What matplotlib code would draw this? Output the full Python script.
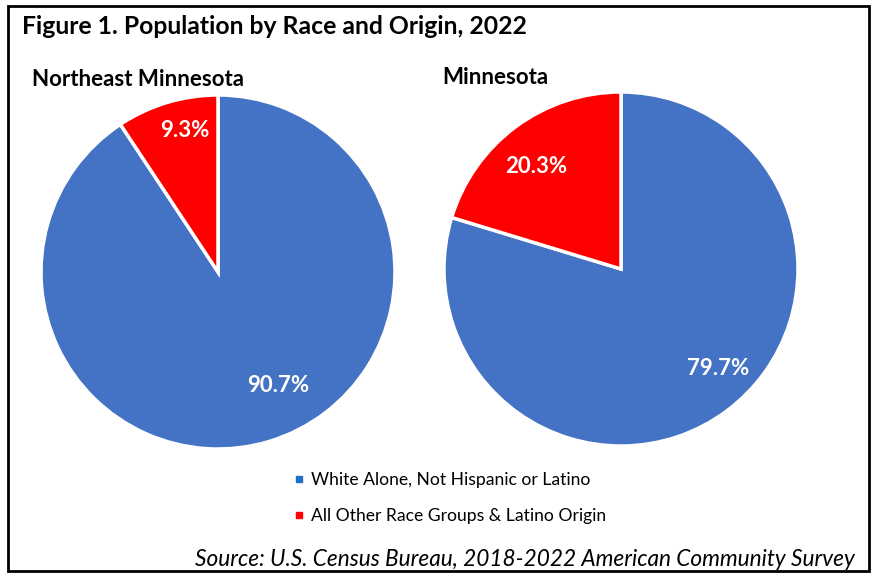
import matplotlib.pyplot as plt
from matplotlib.lines import Line2D
from matplotlib.patches import Rectangle

# Data
regions = ["Northeast Minnesota", "Minnesota"]
categories = ["White Alone, Not Hispanic or Latino", "All Other Race Groups & Latino Origin"]
white_share = [90.7, 79.7]
other_share = [9.3, 20.3]

pie_colors = ["#4472C4", "#FF0000"]
legend_colors = ["#1F6FC5", "#FF0000"]

plt.rcParams["font.family"] = ["Lato", "DejaVu Sans"]

W, H = 872, 576
fig = plt.figure(figsize=(W / 100, H / 100), dpi=100)

# outer frame
fig.add_artist(Rectangle((8 / W, 5 / H), 861 / W, 565 / H, transform=fig.transFigure,
                         fill=False, edgecolor="black", linewidth=2))

fig.text(22 / W, 1 - 27 / H, "Figure 1. Population by Race and Origin, 2022",
         fontsize=17.8, fontweight="bold", va="center", ha="left")

# pie centres / radius in pixels, and label offsets (in radius units)
centres = [(218, 272), (621, 269)]
radius = 177
title_pos = [(32, 80), (442, 78)]
label_pos = [[(0.34, -0.64), (-0.19, 0.80)],
             [(0.55, -0.56), (-0.48, 0.58)]]

for i, region in enumerate(regions):
    cx, cy = centres[i]
    ax = fig.add_axes([(cx - radius) / W, (H - cy - radius) / H, 2 * radius / W, 2 * radius / H])
    vals = [white_share[i], other_share[i]]
    wedges, texts, autotexts = ax.pie(
        vals, colors=pie_colors, startangle=90, counterclock=False,
        autopct="%.1f%%", pctdistance=0.75,
        wedgeprops=dict(edgecolor="white", linewidth=2.5),
        textprops=dict(color="white", fontsize=16, fontweight="bold"))
    for t, pos in zip(autotexts, label_pos[i]):
        t.set_position(pos)
        t.set_ha("center")
        t.set_va("center")
    ax.set_xlim(-1, 1)
    ax.set_ylim(-1, 1)
    ax.set_aspect("auto")
    ax.axis("off")
    fig.text(title_pos[i][0] / W, 1 - title_pos[i][1] / H, region,
             fontsize=16, fontweight="bold", va="center", ha="left")

handles = [Line2D([], [], marker="s", linestyle="none", markersize=5,
                  markerfacecolor=c, markeredgecolor=c) for c in legend_colors]
fig.legend(handles, categories, loc="center left",
           bbox_to_anchor=(278 / W, 1 - 498 / H), frameon=False,
           fontsize=12.6, handlelength=0.6, handletextpad=0.4, labelspacing=1.1)

fig.text(855 / W, 1 - 559 / H, "Source: U.S. Census Bureau, 2018-2022 American Community Survey",
         fontsize=16.3, fontstyle="italic", ha="right", va="center")

fig.savefig("out.png", dpi=100)
